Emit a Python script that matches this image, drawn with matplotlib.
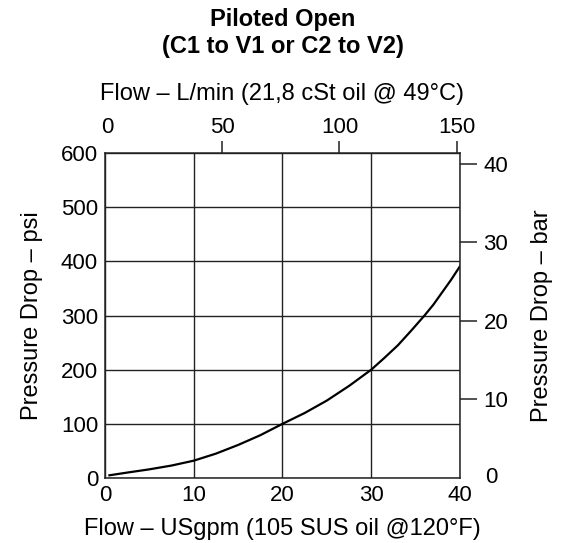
import matplotlib.pyplot as plt

plt.rcParams['font.family'] = ['Liberation Sans', 'DejaVu Sans']

# Flow (USgpm) vs pressure drop (psi)
flow_gpm = [0.5, 2.5, 5, 7.5, 10, 12.5, 15, 17.5, 20, 22.5, 25, 27.5, 30,
            31.5, 33, 34.5, 36, 37, 38, 39, 40]
dp_psi = [5, 10, 16, 23, 32, 45, 61, 79, 100, 120, 143, 170, 200,
          222, 245, 272, 300, 320, 343, 366, 391]

x_ticks = [0, 10, 20, 30, 40]
y_ticks = [0, 100, 200, 300, 400, 500, 600]
lpm_ticks = [50, 100, 150]
bar_ticks = [10, 20, 30, 40]

GPM_TO_LPM = 3.785
PSI_TO_BAR = 1 / 14.5038

TICK_FS = 16
LABEL_FS = 17

fig = plt.figure(figsize=(5.66, 5.43), dpi=100)
ax = fig.add_axes([0.1855, 0.1197, 0.6272, 0.5985])

ax.plot(flow_gpm, dp_psi, color='black', lw=1.6)

ax.set_xlim(0, 40)
ax.set_ylim(0, 600)
ax.set_xticks(x_ticks)
ax.set_yticks(y_ticks)
ax.grid(True, color='#222222', lw=1.0)
ax.tick_params(length=0, labelsize=TICK_FS, pad=5)
for s in ax.spines.values():
    s.set_linewidth(1.1)
    s.set_color('#222222')

ax.set_xlabel('Flow – USgpm (105 SUS oil @120°F)', fontsize=LABEL_FS, labelpad=9)
ax.set_ylabel('Pressure Drop – psi', fontsize=LABEL_FS, labelpad=13)

# Metric scales on top and right
top = ax.secondary_xaxis('top', functions=(lambda q: q * GPM_TO_LPM, lambda q: q / GPM_TO_LPM))
top.set_xticks(lpm_ticks)
top.tick_params(direction='out', length=9, width=1.1, labelsize=TICK_FS, pad=2, color='#222222')
top.set_xlabel('Flow – L/min (21,8 cSt oil @ 49°C)', fontsize=LABEL_FS, labelpad=12)
top.spines['top'].set_visible(False)
fig.text(0.189, 0.765, '0', fontsize=TICK_FS, ha='center', va='center')

right = ax.secondary_yaxis('right', functions=(lambda p: p * PSI_TO_BAR, lambda p: p / PSI_TO_BAR))
right.set_yticks(bar_ticks)
right.tick_params(direction='out', length=12, width=1.1, labelsize=TICK_FS, pad=5, color='#222222')
right.set_ylabel('Pressure Drop – bar', fontsize=LABEL_FS, labelpad=16)
right.spines['right'].set_visible(False)
fig.text(0.868, 0.120, '0', fontsize=TICK_FS, ha='center', va='center')

fig.suptitle('Piloted Open\n(C1 to V1 or C2 to V2)', fontsize=LABEL_FS, fontweight='bold',
             y=0.985, linespacing=1.2)

fig.savefig('out.png', dpi=100)
